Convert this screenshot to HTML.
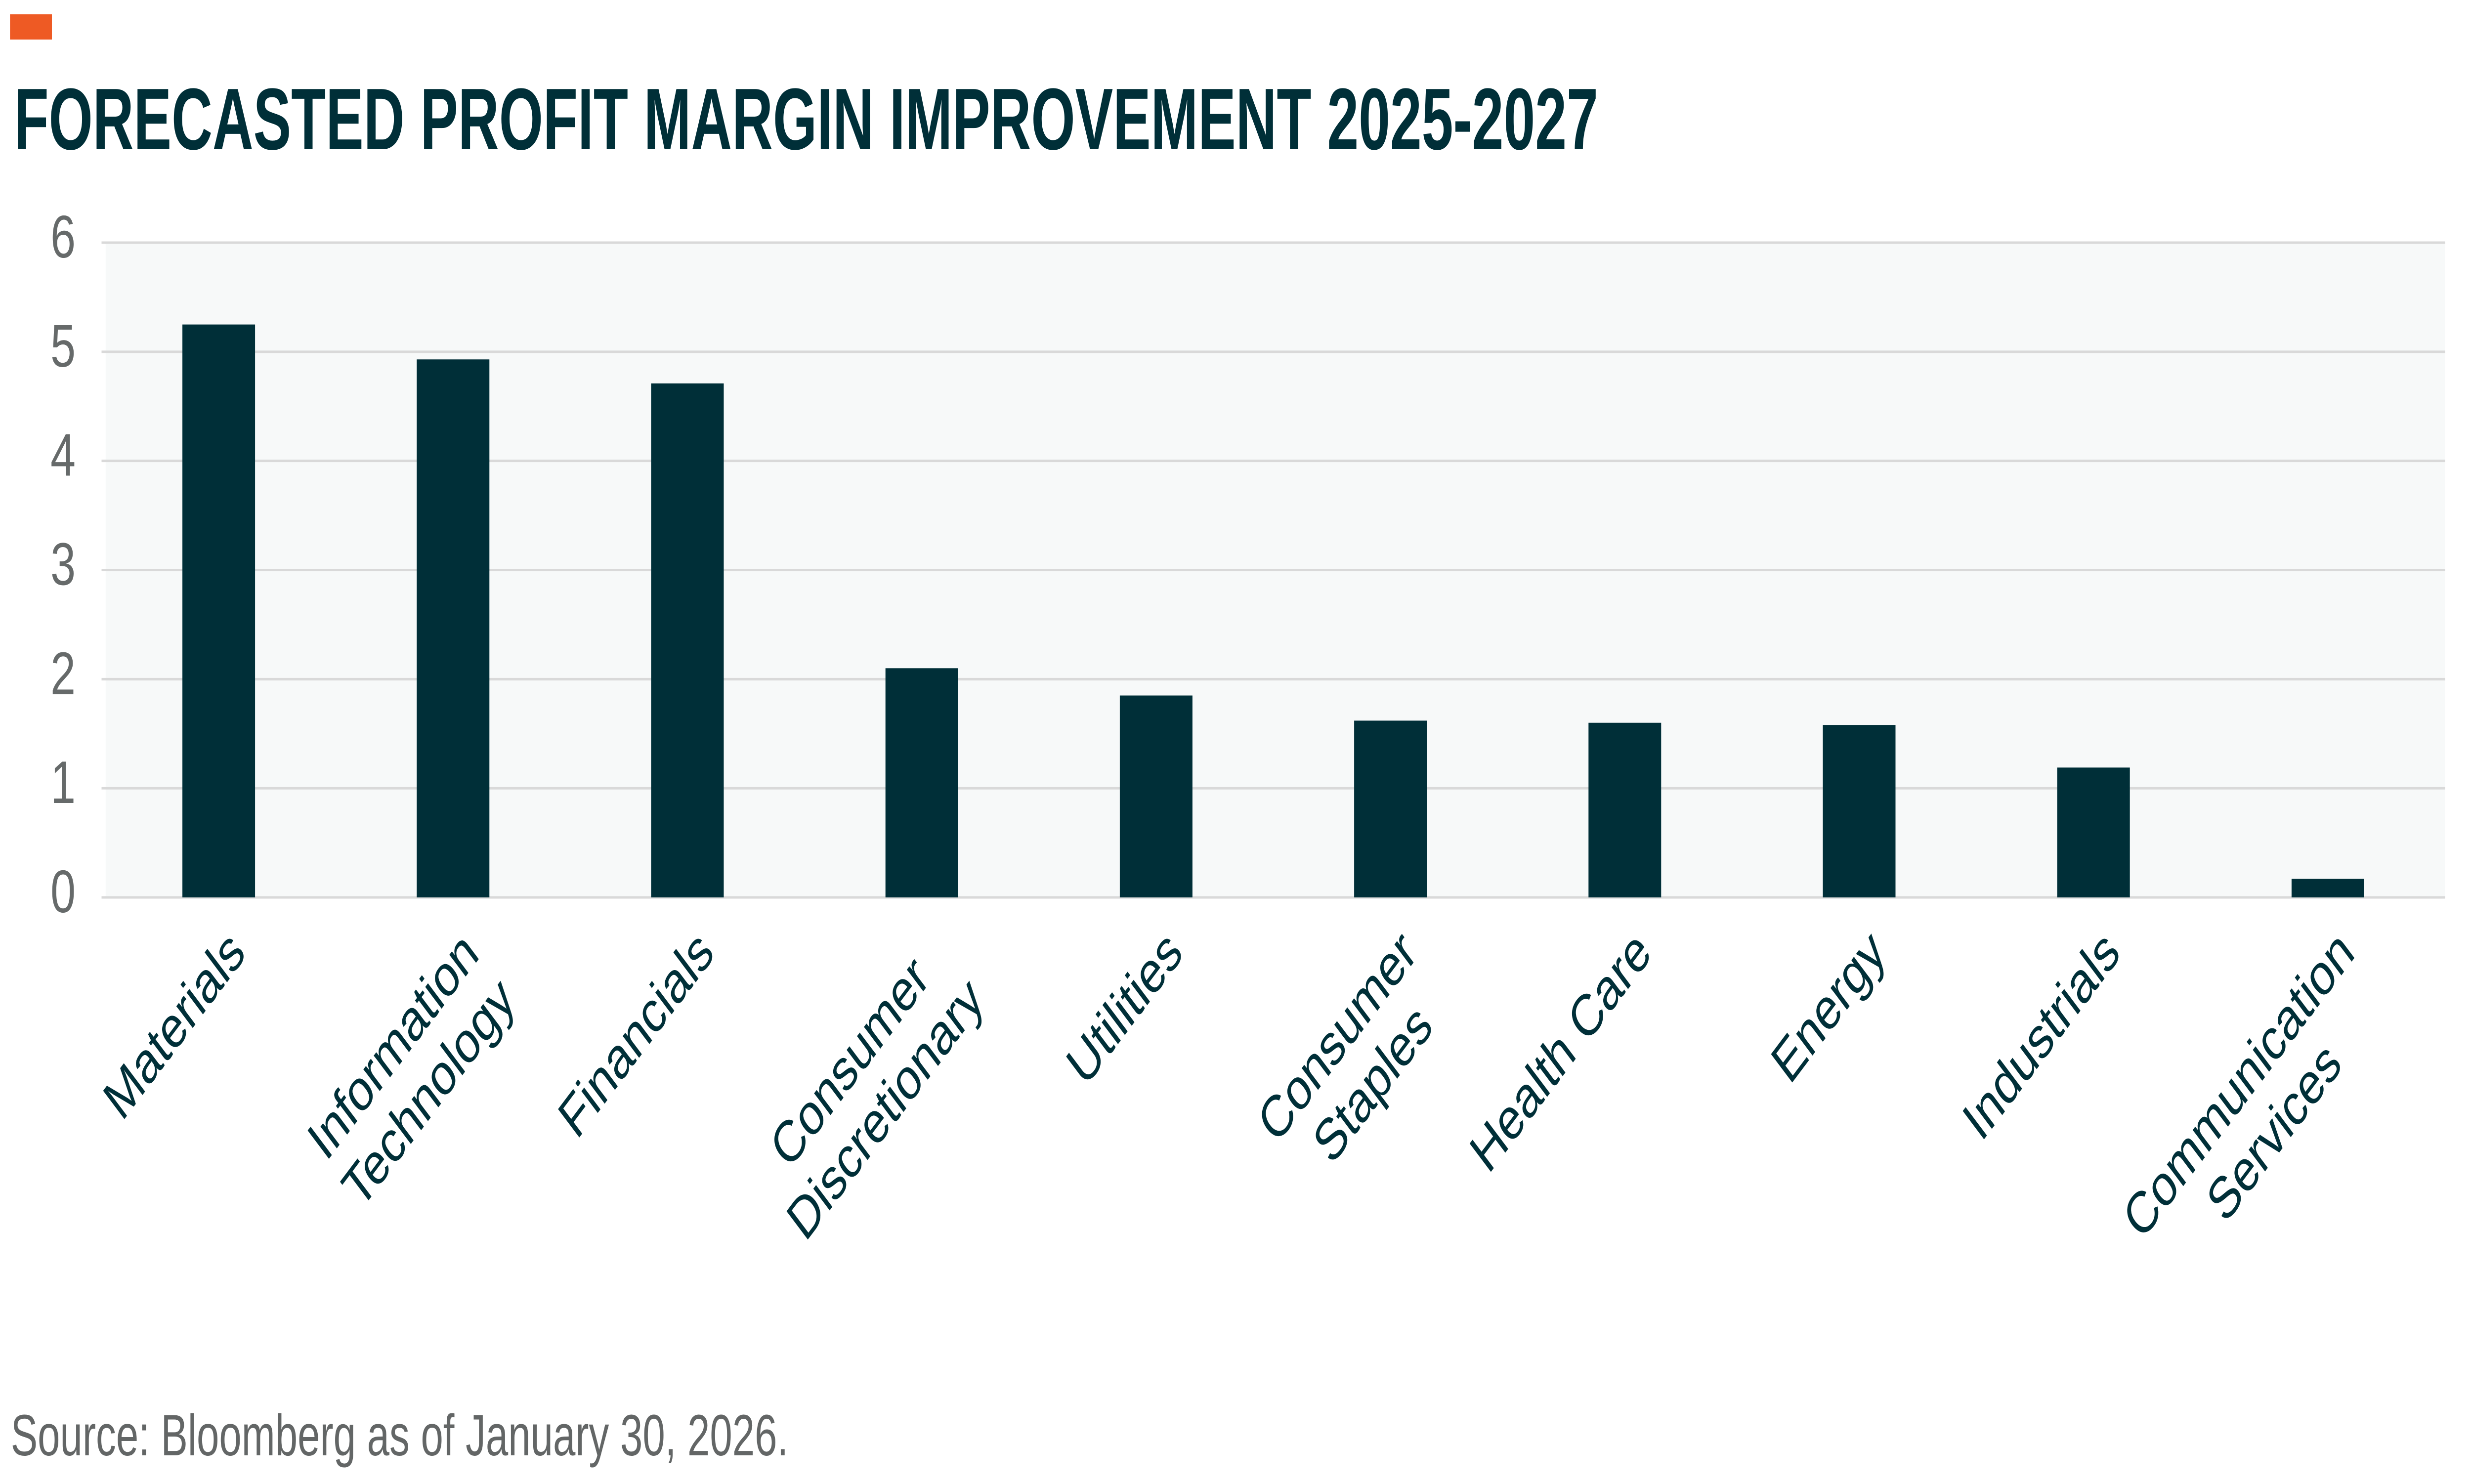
<!DOCTYPE html>
<html><head><meta charset="utf-8"><style>html,body{margin:0;padding:0;background:#fff;width:100%;height:100%;overflow:hidden}svg{display:block;width:100vw;height:100vh}</style></head>
<body>
<svg id="chart" xmlns="http://www.w3.org/2000/svg" viewBox="0 0 6667 3003" preserveAspectRatio="none">
<rect x="27" y="29" width="113" height="51" fill="#ee5a24"/>
<text x="38" y="302" font-family="Liberation Sans, sans-serif" font-weight="bold" font-size="177" fill="#002f38" textLength="4274" lengthAdjust="spacingAndGlyphs">FORECASTED PROFIT MARGIN IMPROVEMENT 2025-2027</text>
<rect x="285" y="491" width="6312" height="1325" fill="#f7f9f9"/>
<g id="grid"></g><g id="bars"></g><g id="ylabels"></g><g id="xlabels"></g>
<text x="29" y="2945" font-family="Liberation Sans, sans-serif" font-size="118" fill="#636666" textLength="2098" lengthAdjust="spacingAndGlyphs">Source: Bloomberg as of January 30, 2026.</text>
</svg>
<script>
const categories = [["Materials"],["Information","Technology"],["Financials"],["Consumer","Discretionary"],["Utilities"],["Consumer","Staples"],["Health Care"],["Energy"],["Industrials"],["Communication","Services"]];
const values = [5.25, 4.93, 4.71, 2.1, 1.85, 1.62, 1.6, 1.58, 1.19, 0.17];
const yTicks = [0, 1, 2, 3, 4, 5, 6];
const NS = "http://www.w3.org/2000/svg";
const X0 = 274, X1 = 6597, Y0 = 1816, Y1 = 491, YMAX = 6;
const band = (X1 - X0) / categories.length;
const barW = 196;
function yScale(v){ return Y0 - (v / YMAX) * (Y0 - Y1); }
function xCenter(i){ return X0 + band * (i + 0.5); }
function mk(tag, attrs, parent){ const e = document.createElementNS(NS, tag); for (const k in attrs) e.setAttribute(k, attrs[k]); parent.appendChild(e); return e; }
const grid = document.getElementById('grid'), bars = document.getElementById('bars'), yl = document.getElementById('ylabels'), xl = document.getElementById('xlabels');
yTicks.forEach(t => {
  const y = yScale(t);
  const l = mk('line', {x1: 274, x2: X1, y1: y, y2: y, stroke: '#d9d9d9', 'stroke-width': 5}, grid);
  
  
  const tx = mk('text', {x: 204, y: y + 30, 'text-anchor': 'end', 'font-family': 'Liberation Sans, sans-serif', 'font-size': 122, fill: '#666a6a'}, yl);
  tx.textContent = t;
  
  
});
values.forEach((v, i) => {
  const y = yScale(v);
  const r = mk('rect', {x: xCenter(i) - barW / 2, y: y, width: barW, height: Y0 - y, fill: '#002f38'}, bars);
  
  
});
categories.forEach((lines, i) => {
  const g = mk('g', {transform: 'translate(' + (xCenter(i) + 12) + ',1868) rotate(-45)'}, xl);
  
  
  const ts = lines.map((ln, k) => {
    const t = mk('text', {x: 0, y: 92 + k * 135, 'font-family': 'Liberation Sans, sans-serif', 'font-size': 118, fill: '#002f38', 'text-anchor': 'middle'}, g);
    t.textContent = ln;
    return t;
  });
  const w = Math.max(...ts.map(t => t.getComputedTextLength()));
  ts.forEach(t => t.setAttribute('x', -w / 2));
});
</script>
</body></html>
